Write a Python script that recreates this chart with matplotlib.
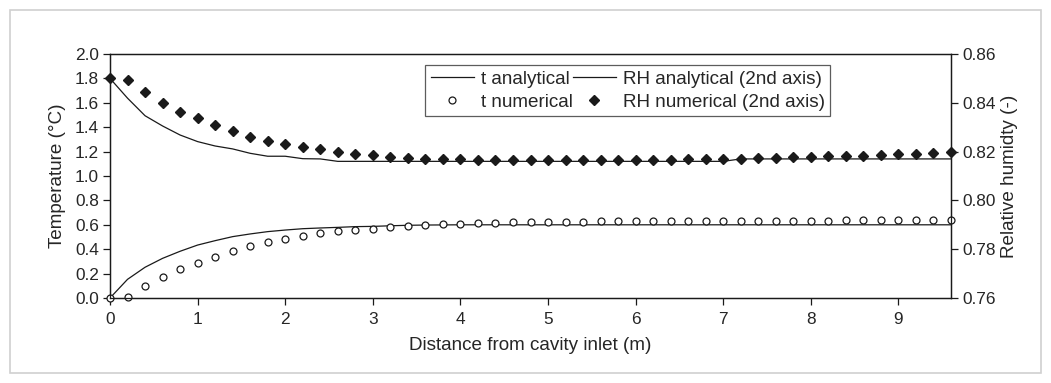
import matplotlib
matplotlib.use("Agg")
import matplotlib.pyplot as plt
from matplotlib.patches import Rectangle

plt.rcParams['font.family'] = ['Liberation Sans', 'DejaVu Sans']

# distance from inlet (m), every 0.2 m
distance = [round(0.2 * i, 1) for i in range(49)]

t_numerical = [0.0, 0.01, 0.098, 0.175, 0.24, 0.29, 0.336, 0.385, 0.426, 0.456,
               0.485, 0.506, 0.532, 0.546, 0.557, 0.568, 0.585, 0.590, 0.598, 0.604,
               0.609, 0.612, 0.618, 0.620, 0.623, 0.624, 0.626, 0.627, 0.628, 0.629,
               0.630, 0.631, 0.631, 0.632, 0.632, 0.633, 0.633, 0.634, 0.634, 0.635,
               0.635, 0.635, 0.636, 0.636, 0.636, 0.637, 0.637, 0.637, 0.638]

t_analytical = [0.0, 0.153, 0.252, 0.325, 0.383, 0.434, 0.470, 0.503, 0.525, 0.544,
                0.557, 0.568, 0.574, 0.579, 0.585, 0.587, 0.592, 0.596, 0.598, 0.599,
                0.600, 0.600, 0.600, 0.600, 0.600, 0.600, 0.600, 0.600, 0.600, 0.600,
                0.600, 0.600, 0.600, 0.600, 0.600, 0.600, 0.600, 0.600, 0.600, 0.600,
                0.600, 0.600, 0.600, 0.600, 0.600, 0.600, 0.600, 0.600, 0.600]

rh_numerical = [0.8500, 0.8494, 0.8443, 0.8399, 0.8364, 0.8337, 0.8311, 0.8285, 0.8260, 0.8245,
                0.8233, 0.8220, 0.8210, 0.8199, 0.8190, 0.8185, 0.8179, 0.8175, 0.8171, 0.8170,
                0.8169, 0.8167, 0.8166, 0.8166, 0.8166, 0.8166, 0.8166, 0.8166, 0.8166, 0.8166,
                0.8166, 0.8167, 0.8167, 0.8168, 0.8169, 0.8170, 0.8171, 0.8173, 0.8174, 0.8176,
                0.8178, 0.8180, 0.8182, 0.8184, 0.8187, 0.8189, 0.8191, 0.8194, 0.8197]

rh_analytical = [0.8500, 0.8419, 0.8347, 0.8305, 0.8268, 0.8241, 0.8223, 0.8211, 0.8193, 0.8181,
                 0.8181, 0.8171, 0.8170, 0.8160, 0.8160, 0.8160, 0.8160, 0.8160, 0.8160, 0.8160,
                 0.8160, 0.8160, 0.8160, 0.8160, 0.8160, 0.8160, 0.8160, 0.8160, 0.8160, 0.8160,
                 0.8160, 0.8160, 0.8160, 0.8160, 0.8160, 0.8160, 0.8170, 0.8170, 0.8170, 0.8170,
                 0.8170, 0.8170, 0.8170, 0.8170, 0.8170, 0.8170, 0.8170, 0.8170, 0.8170]

x_ticks = [0, 1, 2, 3, 4, 5, 6, 7, 8, 9]
t_ticks = [0.0, 0.2, 0.4, 0.6, 0.8, 1.0, 1.2, 1.4, 1.6, 1.8, 2.0]
rh_ticks = [0.76, 0.78, 0.80, 0.82, 0.84, 0.86]

fig = plt.figure(figsize=(10.51, 3.83), dpi=100)
fig.patches.append(Rectangle((10 / 1051, 10 / 383), 1031 / 1051, 363 / 383,
                             transform=fig.transFigure, fill=False,
                             edgecolor='#d0d0d0', linewidth=1.2))

ax = fig.add_axes([110 / 1051, 85 / 383, 841 / 1051, 244 / 383])
ax2 = ax.twinx()

fs = 12.4
lfs = 13.6
txt = '#262626'
l1, = ax.plot(distance, t_analytical, color='#1a1a1a', lw=0.9, label='t analytical')
m1, = ax.plot(distance, t_numerical, ls='none', marker='o', ms=5.0, mfc='white',
              mec='#1a1a1a', mew=0.9, label='t numerical', clip_on=False, zorder=5)
l2, = ax2.plot(distance, rh_analytical, color='#1a1a1a', lw=0.9, label='RH analytical (2nd axis)')
m2, = ax2.plot(distance, rh_numerical, ls='none', marker='D', ms=5.0, mfc='#1a1a1a',
               mec='#1a1a1a', label='RH numerical (2nd axis)', clip_on=False, zorder=5)

ax.set_xlim(0, 9.6)
ax.set_ylim(0, 2.0)
ax2.set_ylim(0.76, 0.86)
ax.set_xticks(x_ticks)
ax.set_xticklabels([str(v) for v in x_ticks], fontsize=fs)
ax.set_yticks(t_ticks)
ax.set_yticklabels([f'{v:.1f}' for v in t_ticks], fontsize=fs)
ax2.set_yticks(rh_ticks)
ax2.set_yticklabels([f'{v:.2f}' for v in rh_ticks], fontsize=fs)

for a in (ax, ax2):
    a.tick_params(direction='out', length=5, width=0.9, color='#1a1a1a',
                  labelcolor=txt, pad=3)
    for s in a.spines.values():
        s.set_color('#1a1a1a')
        s.set_linewidth(0.9)
ax.tick_params(axis='x', pad=5)

ax.set_xlabel('Distance from cavity inlet (m)', fontsize=lfs, color=txt, labelpad=7)
ax.set_ylabel('Temperature (°C)', fontsize=lfs, color=txt, labelpad=6)
ax2.set_ylabel('Relative humidty (-)', fontsize=lfs, color=txt, labelpad=4)

leg = ax2.legend(handles=[l1, m1, l2, m2], ncol=2, loc='upper left',
                 bbox_to_anchor=(315 / 841, 0.955), fontsize=lfs,
                 frameon=True, fancybox=False, edgecolor='#333333',
                 handlelength=2.3, handletextpad=0.35, columnspacing=0.0,
                 labelspacing=0.3, borderpad=0.3, borderaxespad=0.0)
leg.get_frame().set_linewidth(0.9)
for t in leg.get_texts():
    t.set_color(txt)

fig.savefig('out.png', dpi=100)
